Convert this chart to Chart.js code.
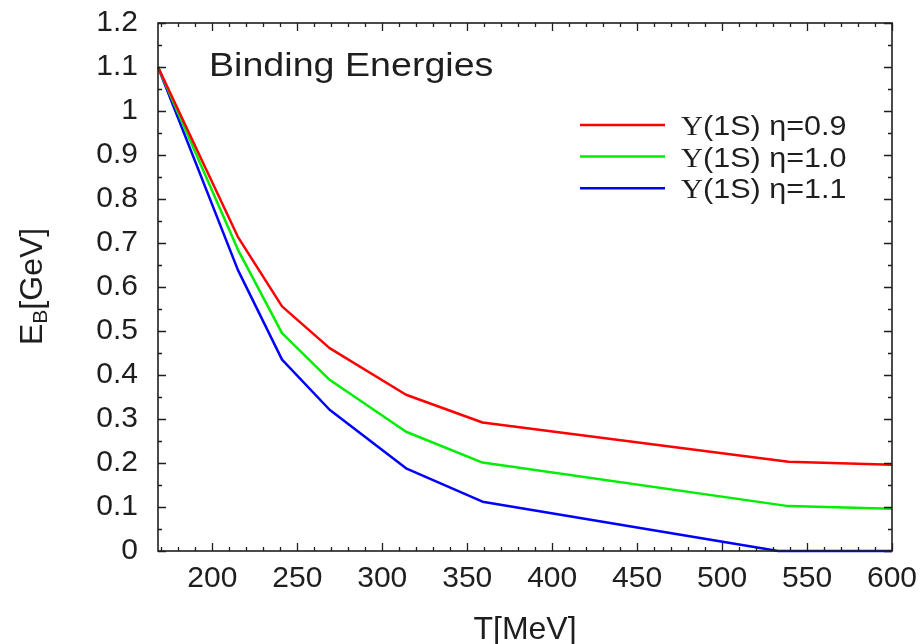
<!DOCTYPE html>
<html>
<head>
<meta charset="utf-8">
<script src="https://cdn.jsdelivr.net/npm/chart.js@4.4.1/dist/chart.umd.min.js"></script>
<style>
  html, body { margin: 0; padding: 0; background: #ffffff; }
  #wrap { width: 924px; height: 644px; }
</style>
</head>
<body>
<div id="wrap"><canvas id="c" width="924" height="644"></canvas></div>
<script>
// ---- data ----
const tempT      = [168, 215, 241, 269, 314, 359, 539, 600];   // T [MeV]
const tempTBlue  = [168, 215, 241, 269, 314, 359, 533, 600];   // T [MeV]
const ebEta09    = [1.10, 0.714, 0.556, 0.461, 0.355, 0.292, 0.203, 0.196];
const ebEta10    = [1.10, 0.685, 0.495, 0.389, 0.271, 0.201, 0.102, 0.096];
const ebEta11    = [1.10, 0.639, 0.435, 0.321, 0.188, 0.112, 0.000, 0.000];
const seriesLabels = ['\u03A5(1S) \u03B7=0.9', '\u03A5(1S) \u03B7=1.0', '\u03A5(1S) \u03B7=1.1'];
const seriesColors = ['#ff0000', '#00ee00', '#0000ff'];
const xTicks = [200, 250, 300, 350, 400, 450, 500, 550, 600];
const yTicks = [0, 0.1, 0.2, 0.3, 0.4, 0.5, 0.6, 0.7, 0.8, 0.9, 1.0, 1.1, 1.2];
const xMin = 168, xMax = 600, yMin = 0, yMax = 1.2;
const chartTitle = 'Binding Energies';
const xTitle = 'T[MeV]';
const yTitleMain = 'E', yTitleSub = 'B', yTitleRest = '[GeV]';

const SANS = "'Liberation Sans', Arial, Helvetica, sans-serif";
const SERIF = "'Liberation Serif', 'Times New Roman', serif";
const INK = '#1e1e1e';

function pts(xs, ys) { return xs.map((x, i) => ({ x: x, y: ys[i] })); }

const decorPlugin = {
  id: 'decor',
  afterDraw(chart) {
    const ctx = chart.ctx;
    const a = chart.chartArea;
    const sx = chart.scales.x, sy = chart.scales.y;
    ctx.save();
    // frame
    ctx.strokeStyle = INK;
    ctx.lineWidth = 1.6;
    ctx.strokeRect(a.left, a.top, a.right - a.left, a.bottom - a.top);
    // x ticks (major every 50, minor every 10), inward, bottom and top
    ctx.lineWidth = 1.3;
    ctx.beginPath();
    for (let v = Math.ceil(xMin / 10) * 10; v <= xMax; v += 10) {
      const px = Math.round(sx.getPixelForValue(v)) + 0.5;
      const len = (v % 50 === 0) ? 8 : 4;
      ctx.moveTo(px, a.bottom); ctx.lineTo(px, a.bottom - len);
      ctx.moveTo(px, a.top); ctx.lineTo(px, a.top + len);
    }
    // y ticks (major every 0.1, minor every 0.05), inward, left and right
    for (let k = 0; k <= 24; k++) {
      const v = k * 0.05;
      const py = Math.round(sy.getPixelForValue(v)) + 0.5;
      const len = (k % 2 === 0) ? 8 : 4;
      ctx.moveTo(a.left, py); ctx.lineTo(a.left + len, py);
      ctx.moveTo(a.right, py); ctx.lineTo(a.right - len, py);
    }
    ctx.stroke();

    ctx.fillStyle = INK;
    // title inside plot
    ctx.save();
    ctx.translate(209, 76);
    ctx.scale(1.14, 1);
    ctx.font = '33px ' + SANS;
    ctx.textAlign = 'left';
    ctx.textBaseline = 'alphabetic';
    ctx.fillText(chartTitle, 0, 0);
    ctx.restore();

    // legend
    chart.data.datasets.forEach((ds, i) => {
      const base = 135 + i * 31.6;
      const ly = base - 10;
      ctx.strokeStyle = ds.borderColor;
      ctx.lineWidth = 2.5;
      ctx.beginPath();
      ctx.moveTo(580, ly); ctx.lineTo(665, ly);
      ctx.stroke();
      ctx.save();
      ctx.translate(681, base);
      ctx.scale(1.09, 1);
      ctx.textBaseline = 'alphabetic';
      ctx.textAlign = 'left';
      ctx.fillStyle = INK;
      const label = ds.label;
      ctx.font = '28px ' + SERIF;
      ctx.fillText(label.charAt(0), 0, 0);
      const w0 = ctx.measureText(label.charAt(0)).width;
      ctx.font = '28px ' + SANS;
      ctx.fillText(label.slice(1), w0, 0);
      ctx.restore();
    });

    // x axis title
    ctx.font = '32px ' + SANS;
    ctx.textAlign = 'center';
    ctx.textBaseline = 'alphabetic';
    ctx.fillText(xTitle, (a.left + a.right) / 2, 639);

    // y axis title (rotated, with subscript)
    ctx.save();
    ctx.translate(42, 345);
    ctx.rotate(-Math.PI / 2);
    ctx.textAlign = 'left';
    ctx.font = '32px ' + SANS;
    ctx.fillText(yTitleMain, 0, 0);
    const wE = ctx.measureText(yTitleMain).width;
    ctx.font = '21px ' + SANS;
    ctx.fillText(yTitleSub, wE, 5);
    const wB = ctx.measureText(yTitleSub).width;
    ctx.font = '32px ' + SANS;
    ctx.fillText(yTitleRest, wE + wB, 0);
    ctx.restore();

    ctx.restore();
  }
};

const mkSet = (label, color, data) => ({
  label: label,
  data: data,
  borderColor: color,
  backgroundColor: color,
  borderWidth: 2.5,
  pointRadius: 0,
  pointHoverRadius: 0,
  tension: 0,
  fill: false,
  borderJoinStyle: 'round',
  clip: false
});

new Chart(document.getElementById('c'), {
  type: 'line',
  data: {
    datasets: [
      mkSet(seriesLabels[0], seriesColors[0], pts(tempT, ebEta09)),
      mkSet(seriesLabels[1], seriesColors[1], pts(tempT, ebEta10)),
      mkSet(seriesLabels[2], seriesColors[2], pts(tempTBlue, ebEta11))
    ]
  },
  options: {
    responsive: false,
    animation: false,
    events: [],
    layout: { padding: { top: 23, right: 32, bottom: 0, left: 0 } },
    plugins: { legend: { display: false }, tooltip: { enabled: false }, title: { display: false } },
    scales: {
      x: {
        type: 'linear',
        min: xMin, max: xMax,
        afterBuildTicks: s => { s.ticks = xTicks.map(v => ({ value: v })); },
        afterFit: s => { s.height = 93; s.paddingLeft = 0; s.paddingRight = 0; },
        grid: { display: false, drawTicks: false },
        border: { display: false },
        ticks: {
          font: { family: SANS, size: 30 },
          color: INK,
          padding: 10,
          maxRotation: 0,
          autoSkip: false,
          callback: v => String(v)
        }
      },
      y: {
        type: 'linear',
        min: yMin, max: yMax,
        afterBuildTicks: s => { s.ticks = yTicks.map(v => ({ value: v })); },
        afterFit: s => { s.width = 158; s.paddingTop = 0; s.paddingBottom = 0; },
        grid: { display: false, drawTicks: false },
        border: { display: false },
        ticks: {
          font: { family: SANS, size: 30 },
          color: INK,
          padding: 20,
          autoSkip: false,
          callback: v => String(Math.round(v * 10) / 10)
        }
      }
    }
  },
  plugins: [decorPlugin]
});
</script>
</body>
</html>
